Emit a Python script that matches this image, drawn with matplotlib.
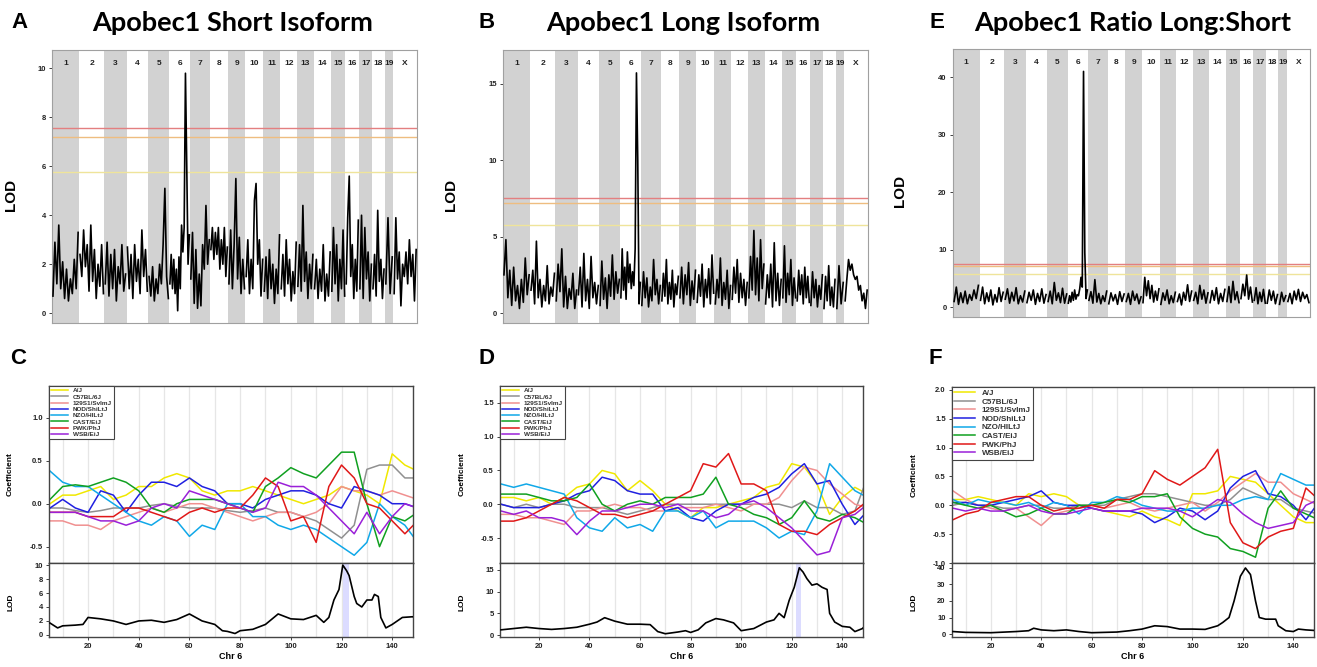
import numpy as np
import matplotlib.pyplot as plt

plt.rcParams['font.family'] = ['Liberation Sans', 'DejaVu Sans']

# ---------------- data ----------------
chr_names = ['1', '2', '3', '4', '5', '6', '7', '8', '9', '10', '11', '12',
             '13', '14', '15', '16', '17', '18', '19', 'X']
chr_len = [195.5, 182.1, 160.0, 156.5, 151.8, 149.7, 145.4, 129.4, 124.6,
           130.7, 122.1, 120.1, 120.4, 124.9, 104.0, 98.2, 94.9, 90.7, 61.4,
           171.0]

thresholds = [7.55, 7.2, 5.78]
thr_colors = ['#e37f80', '#eebd80', '#efe49a']

# genome scan LOD, one list per chromosome (values evenly spread on chromosome)
short_lod = [
    [0.7, 2.9, 1.2, 3.6, 1.0, 2.1, 0.6, 1.8, 0.5, 1.4, 0.8, 2.2, 1.0, 3.3],
    [2.4, 1.5, 3.4, 1.9, 2.8, 0.9, 3.6, 1.3, 2.6, 0.6, 2.0, 1.1, 2.8, 0.8],
    [1.2, 2.9, 0.7, 2.4, 1.0, 2.6, 0.5, 1.9, 1.2, 2.8, 0.9, 1.6],
    [2.7, 1.0, 2.4, 0.6, 2.8, 1.3, 2.2, 0.8, 3.4, 1.5, 2.6, 0.9],
    [1.5, 0.7, 1.9, 0.5, 1.4, 0.8, 2.0, 1.2, 2.8, 5.1, 1.5, 0.6],
    [1.2, 2.4, 1.0, 2.2, 0.8, 1.8, 0.1, 2.3, 1.0, 3.6, 2.5, 3.5, 9.8, 6.0, 2.0, 3.2],
    [1.4, 3.3, 0.4, 2.6, 0.2, 1.6, 0.3, 2.8, 1.8, 4.4, 2.0, 3.0],
    [2.6, 3.5, 2.2, 3.3, 2.4, 3.5, 1.8, 3.0, 2.0, 3.5, 1.5, 2.7],
    [1.2, 3.4, 1.0, 2.8, 5.5, 1.4, 3.1, 0.8, 2.2, 1.0],
    [1.5, 3.0, 0.8, 2.2, 1.0, 4.6, 5.3, 2.0, 3.0, 0.7, 2.2],
    [0.9, 2.3, 0.6, 2.6, 1.0, 2.0, 0.4, 1.8, 0.8, 3.2],
    [1.0, 2.4, 0.7, 3.0, 1.2, 2.2, 0.5, 1.7, 0.8, 2.9],
    [1.1, 2.8, 0.9, 4.4, 1.3, 2.5, 0.6, 2.0, 1.0, 2.4],
    [1.0, 2.2, 0.6, 1.8, 0.9, 2.8, 0.5, 1.6, 0.7, 2.5],
    [0.9, 3.5, 1.2, 2.8, 0.5, 2.2, 1.0, 3.4, 0.7],
    [1.2, 3.9, 5.6, 1.5, 2.8, 0.6, 2.2, 0.9, 3.8],
    [1.0, 4.0, 0.6, 3.5, 1.4, 2.5, 0.5, 2.0],
    [1.0, 2.4, 0.7, 4.2, 1.3, 2.2, 0.6, 1.8],
    [1.2, 3.9, 0.8, 2.3],
    [0.8, 3.9, 1.4, 2.5, 0.3, 2.0, 1.5, 2.5, 1.2, 3.0, 1.5, 2.4, 0.5, 2.6],
]

long_lod = [
    [2.5, 4.8, 1.0, 2.8, 0.5, 3.0, 0.8, 1.8, 0.3, 2.2, 0.7, 3.6, 1.2, 2.5],
    [1.5, 2.8, 0.6, 4.7, 1.0, 2.2, 0.4, 1.8, 0.8, 3.1, 0.6, 1.7, 1.1, 2.6],
    [0.8, 3.2, 1.4, 4.2, 0.4, 2.4, 0.3, 1.6, 0.9, 2.6, 0.3, 1.5],
    [1.2, 3.0, 0.4, 3.9, 0.8, 2.2, 0.3, 3.7, 1.0, 2.0, 0.6, 1.8],
    [0.5, 3.4, 0.9, 2.3, 0.3, 2.5, 1.1, 3.8, 0.9, 2.7, 1.3, 2.2],
    [1.0, 4.2, 1.5, 3.0, 0.9, 4.0, 2.0, 3.2, 1.6, 2.7, 1.8, 4.2, 15.7, 10.0, 0.6, 2.0],
    [0.5, 2.7, 1.0, 2.3, 0.4, 1.7, 0.8, 3.5, 1.2, 2.2, 0.6, 1.8],
    [0.8, 2.6, 1.1, 3.5, 0.6, 2.0, 0.9, 2.8, 0.4, 1.9, 1.2, 2.4],
    [1.0, 3.0, 0.6, 2.5, 1.2, 3.3, 0.5, 2.1, 0.9, 2.8],
    [0.7, 2.5, 1.1, 3.2, 0.4, 2.2, 1.0, 2.9, 0.6, 3.8, 1.3],
    [0.6, 2.2, 1.0, 3.6, 0.5, 2.0, 0.9, 2.8, 0.3, 1.8],
    [0.9, 3.0, 1.3, 3.5, 0.7, 2.6, 1.0, 2.2, 0.5, 2.0],
    [1.0, 3.7, 1.5, 5.4, 1.2, 3.6, 0.8, 4.8, 1.6, 3.2],
    [0.6, 2.5, 1.0, 3.2, 0.4, 4.6, 0.8, 2.6, 0.5, 2.2],
    [1.0, 4.4, 0.7, 2.6, 1.2, 3.5, 0.5, 2.3, 1.0],
    [0.8, 2.8, 1.2, 2.5, 0.6, 3.0, 1.0, 2.4, 0.7],
    [0.5, 2.7, 1.0, 2.2, 0.4, 1.8, 0.9, 2.5],
    [0.3, 2.4, 0.8, 3.1, 0.5, 1.7, 0.4, 2.2],
    [0.3, 3.1, 0.6, 2.0],
    [0.8, 2.2, 3.5, 2.8, 3.2, 2.5, 2.2, 2.4, 1.5, 1.8, 0.8, 1.3, 0.3, 1.5],
]

ratio_lod = [
    [1.0, 3.5, 0.5, 2.5, 0.8, 2.8, 0.6, 2.2, 1.2, 3.0, 1.5, 3.8],
    [1.2, 3.5, 0.6, 2.5, 1.0, 3.0, 0.4, 2.2, 0.9, 3.4, 1.0, 2.6],
    [1.4, 3.2, 0.7, 2.6, 1.1, 3.4, 0.6, 2.0, 0.9, 2.8],
    [0.8, 2.6, 1.2, 3.0, 0.5, 2.4, 1.0, 3.2, 0.7, 2.2],
    [1.0, 2.8, 0.6, 4.3, 1.2, 2.5, 0.8, 3.3, 0.7, 2.3],
    [0.7, 2.0, 0.9, 2.6, 1.2, 3.0, 1.4, 2.2, 2.0, 3.2, 5.2, 3.5, 41.0, 9.5, 1.5, 3.0],
    [1.2, 2.7, 0.7, 4.8, 0.9, 2.4, 0.6, 2.0, 1.0, 2.8],
    [0.6, 2.5, 1.1, 2.2, 0.5, 2.7, 1.0, 2.3],
    [1.0, 2.4, 0.5, 2.8, 1.2, 2.3, 0.6, 1.8],
    [0.8, 5.2, 2.0, 4.6, 1.5, 3.8, 0.9, 2.8, 1.2, 3.2],
    [0.5, 2.5, 1.2, 3.0, 0.6, 2.0, 0.8, 2.6],
    [1.0, 2.3, 0.4, 2.6, 1.2, 3.9, 1.0, 2.8],
    [1.2, 2.6, 0.6, 3.8, 1.4, 3.0, 0.7, 2.5],
    [0.8, 2.9, 1.2, 3.4, 0.6, 2.4, 1.0, 3.1],
    [1.0, 3.6, 0.8, 4.5, 1.3, 2.7, 0.8],
    [1.5, 4.0, 2.0, 5.6, 1.4, 3.5, 0.9],
    [1.2, 3.4, 0.6, 2.6, 1.0, 3.1, 0.7],
    [0.7, 3.0, 1.2, 2.8, 0.6, 2.2],
    [0.5, 2.6, 1.0, 2.0],
    [1.0, 2.4, 0.6, 2.8, 1.3, 3.1, 1.0, 2.6, 1.5, 2.2, 0.8],
]

# founder strain coefficients on Chr 6 (Mb positions in coef_pos)
strains = ['A/J', 'C57BL/6J', '129S1/SvImJ', 'NOD/ShiLtJ', 'NZO/HlLtJ',
           'CAST/EiJ', 'PWK/PhJ', 'WSB/EiJ']
strain_colors = ['#f0e800', '#909090', '#f09090', '#2020e0', '#10a8e8',
                 '#10a020', '#e01818', '#9a20d8']
coef_pos = list(range(5, 151, 5))

short_coef = [
    [0.0, 0.1, 0.1, 0.15, 0.2, 0.05, 0.1, 0.2, 0.2, 0.3, 0.35, 0.3, 0.15, 0.1, 0.15, 0.15, 0.2, 0.15, 0.1, 0.05, 0.0, 0.05, 0.1, 0.2, 0.15, 0.1, 0.0, 0.58, 0.45, 0.38],
    [-0.05, -0.05, -0.08, -0.1, -0.08, -0.05, -0.05, -0.05, -0.02, 0.0, -0.03, -0.05, -0.05, -0.05, -0.08, -0.1, -0.08, -0.05, -0.1, -0.1, -0.15, -0.2, -0.3, -0.4, -0.25, 0.4, 0.45, 0.45, 0.3, 0.3],
    [-0.2, -0.2, -0.25, -0.25, -0.3, -0.2, -0.15, -0.1, -0.05, -0.1, -0.05, 0.0, 0.0, -0.05, -0.1, -0.15, -0.2, -0.15, -0.1, -0.1, -0.15, -0.1, 0.0, 0.2, 0.15, 0.15, 0.1, 0.15, 0.1, 0.05],
    [-0.05, 0.05, -0.05, -0.1, 0.15, 0.1, -0.1, 0.1, 0.25, 0.25, 0.2, 0.3, 0.2, 0.15, 0.0, 0.0, -0.05, 0.05, 0.1, 0.15, 0.15, 0.1, 0.0, -0.05, 0.2, 0.15, 0.1, 0.0, 0.0, -0.05],
    [0.38, 0.25, 0.2, 0.2, 0.1, 0.0, -0.1, -0.2, -0.25, -0.15, -0.2, -0.38, -0.25, -0.3, 0.0, 0.0, -0.15, -0.15, -0.25, -0.3, -0.25, -0.3, -0.4, -0.5, -0.6, -0.45, 0.0, -0.15, -0.25, -0.45],
    [0.05, 0.2, 0.22, 0.2, 0.25, 0.3, 0.25, 0.15, -0.05, -0.1, 0.0, 0.05, 0.05, 0.05, 0.0, -0.05, -0.1, 0.2, 0.3, 0.42, 0.35, 0.3, 0.45, 0.6, 0.6, 0.0, -0.5, -0.15, -0.2, -0.1],
    [-0.1, -0.1, -0.1, -0.15, -0.15, -0.15, -0.05, -0.05, -0.1, -0.15, -0.2, -0.1, -0.05, -0.1, -0.05, -0.05, 0.1, 0.3, 0.2, -0.2, -0.15, -0.45, 0.2, 0.45, 0.3, 0.0, -0.05, -0.2, -0.35, -0.2],
    [-0.1, -0.1, -0.1, -0.15, -0.2, -0.2, -0.25, -0.2, -0.05, 0.0, -0.05, 0.15, 0.1, 0.05, 0.0, -0.05, -0.1, -0.05, 0.25, 0.2, 0.2, 0.1, -0.05, -0.2, -0.35, -0.1, -0.35, -0.15, 0.0, -0.05],
]

long_coef = [
    [0.1, 0.1, 0.05, 0.1, 0.0, 0.1, 0.25, 0.3, 0.5, 0.45, 0.2, 0.35, 0.2, 0.0, -0.1, -0.2, -0.05, -0.05, 0.0, 0.05, 0.1, 0.25, 0.3, 0.6, 0.55, 0.3, -0.15, 0.1, 0.25, 0.15],
    [0.0, -0.05, 0.0, -0.05, 0.0, 0.0, -0.05, -0.05, -0.05, -0.1, -0.15, -0.1, -0.05, 0.0, 0.0, 0.0, 0.0, 0.0, 0.0, 0.0, 0.0, 0.0, 0.0, -0.05, 0.05, -0.05, -0.05, -0.15, -0.1, 0.4],
    [-0.15, -0.15, -0.2, -0.2, -0.25, -0.3, -0.1, -0.1, -0.05, 0.0, -0.05, -0.05, -0.1, -0.1, -0.05, -0.05, -0.05, 0.0, -0.05, -0.1, 0.0, 0.0, 0.1, 0.35, 0.55, 0.5, 0.3, 0.15, 0.0, -0.05],
    [0.0, -0.05, -0.05, -0.05, 0.0, 0.05, 0.15, 0.2, 0.4, 0.35, 0.2, 0.15, 0.15, -0.1, -0.05, -0.2, -0.25, -0.1, 0.0, 0.0, 0.1, 0.15, 0.25, 0.45, 0.6, 0.3, 0.35, 0.0, -0.3, -0.1],
    [0.3, 0.25, 0.3, 0.25, 0.2, 0.15, -0.2, -0.35, -0.4, -0.2, -0.35, -0.3, -0.4, -0.1, -0.1, -0.2, -0.1, -0.35, -0.25, -0.25, -0.25, -0.35, -0.5, -0.4, -0.45, -0.1, 0.6, 0.4, 0.2, 0.1],
    [0.15, 0.15, 0.15, 0.1, 0.05, 0.05, 0.1, 0.3, 0.0, -0.1, 0.0, 0.05, 0.0, 0.1, 0.1, 0.1, 0.15, 0.4, 0.0, -0.05, -0.15, -0.2, -0.3, -0.2, 0.05, -0.2, -0.25, -0.15, -0.2, -0.3],
    [-0.25, -0.25, -0.2, -0.1, 0.0, 0.1, 0.05, -0.05, -0.15, -0.15, -0.2, -0.15, -0.1, 0.0, 0.1, 0.2, 0.6, 0.55, 0.75, 0.3, 0.3, 0.2, -0.3, -0.4, -0.4, -0.45, -0.3, -0.2, -0.1, 0.05],
    [-0.1, -0.15, -0.1, -0.2, -0.2, -0.25, -0.45, -0.25, -0.1, -0.1, -0.05, 0.0, 0.0, -0.05, 0.0, -0.1, -0.1, -0.2, -0.15, 0.0, 0.05, -0.05, -0.2, -0.35, -0.55, -0.75, -0.7, -0.2, -0.15, 0.0],
]

ratio_coef = [
    [0.1, 0.1, 0.15, 0.1, 0.05, 0.0, 0.2, 0.15, 0.2, 0.15, 0.0, -0.05, -0.1, -0.15, -0.2, -0.1, -0.2, -0.25, -0.35, 0.2, 0.2, 0.25, 0.5, 0.45, 0.4, 0.2, 0.0, -0.2, -0.3, -0.3],
    [0.0, 0.05, 0.0, 0.0, -0.05, -0.05, 0.0, 0.0, -0.05, -0.05, 0.0, 0.0, 0.0, 0.1, 0.15, 0.2, 0.2, 0.15, 0.1, 0.05, 0.0, 0.0, 0.1, 0.3, 0.2, 0.1, 0.1, -0.05, -0.1, -0.15],
    [0.25, 0.1, 0.0, -0.05, -0.1, -0.05, -0.2, -0.35, -0.15, -0.1, -0.05, 0.0, -0.05, 0.0, 0.05, -0.05, -0.1, -0.05, 0.0, 0.05, -0.1, 0.05, 0.25, 0.4, 0.55, 0.4, 0.4, 0.2, 0.1, 0.0],
    [0.05, 0.05, 0.0, 0.0, 0.05, 0.1, 0.15, 0.25, 0.05, 0.0, 0.0, -0.05, -0.1, -0.1, -0.1, -0.15, -0.3, -0.2, -0.05, -0.1, -0.25, -0.1, 0.3, 0.5, 0.6, 0.2, 0.15, 0.0, -0.25, 0.05],
    [0.1, 0.0, 0.1, 0.05, 0.05, 0.0, 0.05, -0.05, 0.05, 0.0, -0.15, 0.05, 0.05, 0.15, 0.1, 0.0, -0.05, -0.1, -0.1, -0.05, -0.05, 0.0, 0.0, 0.1, 0.15, 0.1, 0.55, 0.45, 0.35, 0.35],
    [0.05, 0.0, -0.05, 0.0, -0.1, -0.2, -0.15, -0.05, -0.15, -0.15, 0.0, 0.0, 0.05, 0.1, 0.05, 0.15, 0.15, 0.2, -0.2, -0.4, -0.5, -0.55, -0.75, -0.8, -0.9, -0.05, 0.25, -0.05, -0.15, -0.25],
    [-0.25, -0.15, -0.1, 0.05, 0.1, 0.15, 0.15, 0.0, -0.1, -0.05, -0.05, 0.0, -0.05, 0.1, 0.1, 0.2, 0.6, 0.45, 0.35, 0.5, 0.65, 0.97, -0.3, -0.65, -0.75, -0.55, -0.45, -0.4, 0.3, 0.1],
    [-0.05, -0.1, -0.05, -0.1, -0.1, -0.05, 0.0, -0.1, -0.15, -0.15, -0.1, -0.05, -0.1, -0.1, -0.1, -0.05, -0.05, -0.05, -0.1, -0.2, -0.05, 0.1, 0.05, -0.15, -0.3, -0.4, -0.35, -0.3, 0.0, 0.1],
]

# Chr 6 LOD profiles under the coefficient plots
short_chr6_pos = [5, 8, 10, 15, 18, 20, 25, 30, 35, 40, 45, 50, 55, 60, 65, 70, 73, 75,
                  78, 80, 85, 90, 95, 100, 105, 110, 113, 115, 117, 119, 120.5, 122,
                  123, 125, 126, 128, 130, 132, 133, 134.5, 135.5, 137.5, 140, 144, 148, 150]
short_chr6_lod = [1.7, 1.0, 1.3, 1.4, 1.5, 2.5, 2.3, 2.0, 1.5, 2.0, 2.1, 1.8, 2.2, 3.0, 2.0,
                  1.5, 0.6, 0.5, 0.2, 0.6, 0.8, 1.5, 3.0, 2.3, 2.2, 2.8, 1.8, 2.5, 5.0, 6.5,
                  10.0, 9.2, 8.5, 5.5, 4.5, 4.0, 5.0, 5.0, 5.8, 5.5, 2.5, 1.0, 1.5, 2.5, 2.6, 2.4]
long_chr6_pos = [5, 10, 15, 20, 25, 30, 35, 40, 43, 46, 50, 55, 60, 64, 67, 70, 75, 78,
                 80, 83, 86, 90, 93, 97, 100, 105, 110, 113, 115, 117, 119, 121, 123,
                 124.5, 126, 128, 130, 132, 134, 135, 137, 140, 143, 145, 148, 150]
long_chr6_lod = [1.2, 1.5, 1.8, 1.5, 1.3, 1.5, 1.8, 2.5, 3.0, 4.0, 3.2, 2.5, 2.5, 2.4, 0.8,
                 0.3, 0.7, 1.0, 0.6, 1.2, 2.8, 3.8, 3.5, 2.8, 1.0, 1.5, 3.0, 3.5, 5.0, 4.0,
                 8.0, 11.0, 15.5, 14.5, 13.0, 11.5, 11.8, 11.0, 10.5, 5.0, 3.0, 2.0, 1.8,
                 0.8, 1.5, 2.8]
ratio_chr6_pos = [5, 10, 20, 30, 35, 37, 40, 45, 50, 55, 60, 65, 70, 75, 80, 85, 90, 95,
                  100, 105, 110, 112, 114.5, 116.5, 119, 121, 123, 125, 126.5, 129, 133,
                  134, 137, 140, 142, 145, 150]
ratio_chr6_lod = [1.5, 1.0, 0.8, 1.5, 2.0, 3.5, 2.5, 2.0, 2.5, 1.5, 0.8, 1.0, 1.2, 2.0,
                  3.0, 5.0, 4.5, 3.0, 3.0, 2.8, 5.0, 7.0, 10.0, 20.0, 35.0, 40.0, 36.0,
                  20.0, 10.0, 9.0, 9.0, 5.0, 2.0, 1.5, 3.0, 2.5, 2.0]

# ---------------- figure ----------------
W, H = 1317, 667
fig = plt.figure(figsize=(W / 100, H / 100), dpi=100)


def px_axes(x0, y0, x1, y1):
    return fig.add_axes([x0 / W, 1 - y1 / H, (x1 - x0) / W, (y1 - y0) / H])


def style_ticks(ax, color='#333333'):
    ax.tick_params(axis='both', labelsize=5.5, length=2.5, width=0.6, pad=2,
                   colors='#222222')
    for lab in ax.get_yticklabels() + ax.get_xticklabels():
        lab.set_fontweight('bold')
    for s in ax.spines.values():
        s.set_color(color)


def draw_scan(ax, lod_lists, ylim, yticks):
    trans = ax.get_xaxis_transform()
    offset = 0.0
    for k, (name, length, vals) in enumerate(zip(chr_names, chr_len, lod_lists)):
        if k % 2 == 0:
            ax.axvspan(offset, offset + length, color='#d2d2d2', lw=0, zorder=0)
        n = len(vals)
        xs = offset + (np.arange(n) + 0.5) / n * length
        ax.plot(xs, vals, color='black', lw=1.2, zorder=3)
        ax.text(offset + length / 2, 0.95, name, transform=trans, ha='center',
                va='center', fontsize=6, fontweight='bold', color='#222222')
        offset += length
    for t, c in zip(thresholds, thr_colors):
        ax.axhline(t, color=c, lw=1.0, zorder=2)
    ax.set_xlim(0, offset)
    ax.set_ylim(*ylim)
    ax.set_xticks([])
    ax.set_yticks(yticks)
    style_ticks(ax, color='#a0a0a0')


def draw_coef(ax_c, ax_l, coefs, cpos, lpos, lvals, cylim, cyticks, lylim,
              lyticks, band=None, leg_size=4.6):
    for ax in (ax_c, ax_l):
        for g in range(10, 150, 10):
            ax.axvline(g, color='#e6e6e6', lw=0.9, zorder=0)
        ax.set_xlim(4.6, 148.2)
    if band is not None:
        ax_l.axvspan(band[0], band[1], color='#dcdcff', lw=0, zorder=1)
    for name, col, vals in zip(strains, strain_colors, coefs):
        ax_c.plot(cpos, vals, color=col, lw=1.1, label=name, zorder=2)
    ax_l.plot(lpos, lvals, color='black', lw=1.2, zorder=3)
    ax_c.set_ylim(*cylim)
    ax_c.set_yticks(cyticks)
    ax_c.set_yticklabels(['%.1f' % v for v in cyticks])
    ax_c.set_xticks([])
    ax_l.set_ylim(*lylim)
    ax_l.set_yticks(lyticks)
    ax_l.set_xticks(range(20, 141, 20))
    style_ticks(ax_c, color='#444444')
    style_ticks(ax_l, color='#444444')
    for ax in (ax_c, ax_l):
        for s in ax.spines.values():
            s.set_linewidth(1.0)
    leg = ax_c.legend(loc='upper left', fontsize=leg_size, handlelength=2.6,
                      labelspacing=0.12, borderaxespad=0, borderpad=0.3,
                      fancybox=False, framealpha=1, edgecolor='#444444',
                      handletextpad=0.8)
    leg.get_frame().set_linewidth(0.8)
    for txt in leg.get_texts():
        txt.set_fontweight('bold')
        txt.set_color('#333333')
    ax_c.set_ylabel('Coefficient', fontsize=6, fontweight='bold')
    ax_c.yaxis.set_label_coords(-0.096, 0.5)
    ax_l.set_ylabel('LOD', fontsize=6, fontweight='bold')
    ax_l.yaxis.set_label_coords(-0.096, 0.47)
    ax_l.set_xlabel('Chr 6', fontsize=6.5, fontweight='bold', labelpad=1)


# top row: genome scans
axA = px_axes(52, 50, 417, 323)
draw_scan(axA, short_lod, (-0.4, 10.75), [0, 2, 4, 6, 8, 10])
axB = px_axes(503, 50, 868, 323)
draw_scan(axB, long_lod, (-0.65, 17.2), [0, 5, 10, 15])
axE = px_axes(953, 49, 1310, 317)
draw_scan(axE, ratio_lod, (-1.7, 44.9), [0, 10, 20, 30, 40])

for ax, lx in ((axA, -0.093), (axB, -0.123), (axE, -0.129)):
    ax.set_ylabel('LOD', fontsize=11, fontweight='bold')
    ax.yaxis.set_label_coords(lx, 0.47)

# bottom row: chr 6 coefficient plots
axC1 = px_axes(49, 386, 413, 563)
axC2 = px_axes(49, 563, 413, 637)
draw_coef(axC1, axC2, short_coef, coef_pos, short_chr6_pos, short_chr6_lod,
          (-0.69, 1.37), [-0.5, 0.0, 0.5, 1.0], (-0.3, 10.3), [0, 2, 4, 6, 8, 10],
          band=(120.5, 122.9))
axD1 = px_axes(500, 386, 863, 563)
axD2 = px_axes(500, 563, 863, 637)
draw_coef(axD1, axD2, long_coef, coef_pos, long_chr6_pos, long_chr6_lod,
          (-0.87, 1.75), [-0.5, 0.0, 0.5, 1.0, 1.5], (-0.45, 16.6), [0, 5, 10, 15],
          band=(121.7, 123.7))
axF1 = px_axes(952, 387, 1314, 563)
axF2 = px_axes(952, 563, 1314, 637)
draw_coef(axF1, axF2, ratio_coef, coef_pos, ratio_chr6_pos, ratio_chr6_lod,
          (-1.0, 2.05), [-1.0, -0.5, 0.0, 0.5, 1.0, 1.5, 2.0], (-1.8, 43.0),
          [0, 10, 20, 30, 40], leg_size=5.8)

# titles and panel letters
title_font = ['Lato', 'Open Sans', 'DejaVu Sans']
for x, t in ((233, 'Apobec1 Short Isoform'), (683, 'Apobec1 Long Isoform'),
             (1133, 'Apobec1 Ratio Long:Short')):
    fig.text(x / W, 1 - 23 / H, t, ha='center', va='center', fontsize=19.5,
             fontweight='bold', family=title_font)
for x, y, t in ((19, 22, 'A'), (487, 22, 'B'), (937, 22, 'E'),
                (18, 358, 'C'), (487, 358, 'D'), (935, 358, 'F')):
    fig.text(x / W, 1 - y / H, t, ha='center', va='center', fontsize=16,
             fontweight='bold')

fig.savefig('out.png', dpi=100)
